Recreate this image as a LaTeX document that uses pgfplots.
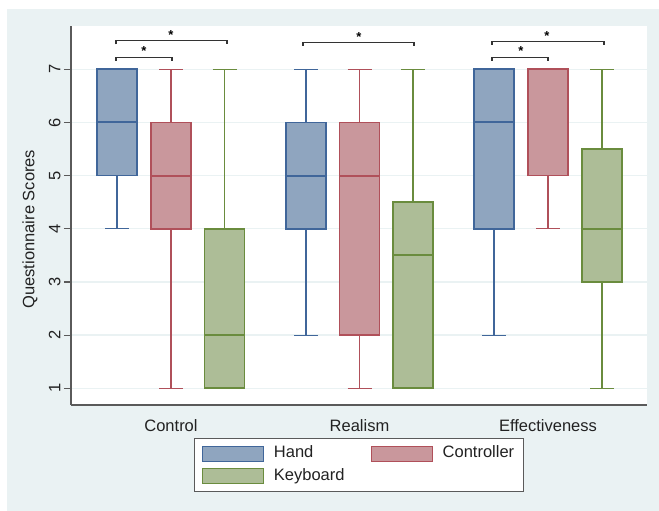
\documentclass[border=0pt]{standalone}
\usepackage{fontspec}
\setmainfont{Liberation Sans}
\usepackage{pgfplots}
\pgfplotsset{compat=1.18}
\usepgfplotslibrary{statistics}
\definecolor{bgc}{HTML}{EAF2F3}
\definecolor{gridc}{HTML}{EAF2F3}
\definecolor{handfill}{HTML}{8FA5BF}
\definecolor{handedge}{HTML}{40669A}
\definecolor{ctrlfill}{HTML}{C9979C}
\definecolor{ctrledge}{HTML}{B0505A}
\definecolor{kbfill}{HTML}{ADBD97}
\definecolor{kbedge}{HTML}{6A8C3E}
\definecolor{axc}{HTML}{5A5A5A}
\definecolor{txt}{HTML}{222222}
\pgfplotsset{
  hand/.style={draw=handedge, fill=handfill},
  ctrl/.style={draw=ctrledge, fill=ctrlfill},
  kb/.style={draw=kbedge, fill=kbfill},
}
\begin{document}
\begin{tikzpicture}[x=1pt,y=1pt]
\fill[white] (0,0) rectangle (659,511);
\fill[bgc] (7,0) rectangle (659,502);
\fill[white] (71,106) rectangle (647,485);
\begin{axis}[
  at={(71pt,106pt)}, anchor=south west,
  scale only axis, width=576pt, height=379pt,
  xmin=71, xmax=647, ymin=0.686, ymax=7.814,
  font=\fontsize{16.5}{19.8}\selectfont,
  every tick label/.append style={text=txt},
  /pgf/number format/assume math mode=true,
  axis x line*=bottom, axis y line*=left,
  axis line style={axc, line width=1.3pt, -},
  xtick={171,359.5,548},
  xticklabels={Control,Realism,Effectiveness},
  xtick style={draw=none},
  x tick label style={yshift=-4pt},
  ytick={1,2,3,4,5,6,7},
  ytick style={axc, line width=1.2pt},
  tick align=outside,
  major tick length=7pt,
  yticklabel style={rotate=90, anchor=south},
  ymajorgrids, grid style={gridc, line width=1.3pt},
  ylabel={Questionnaire Scores},
  ylabel style={at={(axis description cs:-0.0712,0.464)}, anchor=center, rotate=0, text=txt},
  boxplot/draw direction=y,
  boxplot/box extend=40,
  boxplot/whisker extend=24,
  boxplot/every box/.style={line width=1.7pt},
  boxplot/every median/.style={line width=2pt},
  boxplot/every whisker/.style={line width=1.1pt, fill=none},
  legend columns=2,
  legend cell align=left,
  legend image code/.code={\draw[#1, line width=1.3pt] (0pt,-7.5pt) rectangle (61pt,7.5pt); \path (69pt,0pt);},
  legend style={at={(0.5,-0.1583)}, anchor=center, draw=axc, line width=1pt, fill=white,
    font=\fontsize{16.5}{19.8}\selectfont, text=txt,
    nodes={inner sep=2pt, text height=11.8pt, text depth=3.5pt},
    row sep=3pt, inner xsep=7pt, inner ysep=6pt,
    /tikz/every even column/.append style={column sep=24pt}},
  clip=false,
]
% Control
\addplot[hand, boxplot prepared={draw position=117, lower whisker=4, lower quartile=5, median=6, upper quartile=7, upper whisker=7}, forget plot] coordinates {};
\addplot[ctrl, boxplot prepared={draw position=171, lower whisker=1, lower quartile=4, median=5, upper quartile=6, upper whisker=7}, forget plot] coordinates {};
\addplot[kb, boxplot prepared={draw position=224.5, lower whisker=1, lower quartile=1, median=2, upper quartile=4, upper whisker=7}, forget plot] coordinates {};
% Realism
\addplot[hand, boxplot prepared={draw position=306, lower whisker=2, lower quartile=4, median=5, upper quartile=6, upper whisker=7}, forget plot] coordinates {};
\addplot[ctrl, boxplot prepared={draw position=359.5, lower whisker=1, lower quartile=2, median=5, upper quartile=6, upper whisker=7}, forget plot] coordinates {};
\addplot[kb, boxplot prepared={draw position=413, lower whisker=1, lower quartile=1, median=3.5, upper quartile=4.5, upper whisker=7}, forget plot] coordinates {};
% Effectiveness
\addplot[hand, boxplot prepared={draw position=494, lower whisker=2, lower quartile=4, median=6, upper quartile=7, upper whisker=7}, forget plot] coordinates {};
\addplot[ctrl, boxplot prepared={draw position=548, lower whisker=4, lower quartile=5, median=7, upper quartile=7, upper whisker=7}, forget plot] coordinates {};
\addplot[kb, boxplot prepared={draw position=602, lower whisker=1, lower quartile=3, median=4, upper quartile=5.5, upper whisker=7}, forget plot] coordinates {};
% significance brackets
\addplot[black!80, line width=1.2pt, forget plot] coordinates {(116,7.16) (116,7.226) (172,7.226) (172,7.16)};
\addplot[black!80, line width=1.2pt, forget plot] coordinates {(116,7.47) (116,7.538) (227,7.538) (227,7.47)};
\addplot[black!80, line width=1.2pt, forget plot] coordinates {(303,7.44) (303,7.508) (414,7.508) (414,7.44)};
\addplot[black!80, line width=1.2pt, forget plot] coordinates {(492,7.16) (492,7.226) (548,7.226) (548,7.16)};
\addplot[black!80, line width=1.2pt, forget plot] coordinates {(492,7.46) (492,7.526) (604,7.526) (604,7.46)};
\node[anchor=base, font=\bfseries\fontsize{13}{14}\selectfont, inner sep=0pt] at (axis cs:144,7.25) {*};
\node[anchor=base, font=\bfseries\fontsize{13}{14}\selectfont, inner sep=0pt] at (axis cs:171,7.56) {*};
\node[anchor=base, font=\bfseries\fontsize{13}{14}\selectfont, inner sep=0pt] at (axis cs:359,7.53) {*};
\node[anchor=base, font=\bfseries\fontsize{13}{14}\selectfont, inner sep=0pt] at (axis cs:521,7.25) {*};
\node[anchor=base, font=\bfseries\fontsize{13}{14}\selectfont, inner sep=0pt] at (axis cs:547,7.55) {*};
% legend
\addlegendimage{hand}
\addlegendentry{Hand}
\addlegendimage{ctrl}
\addlegendentry{Controller}
\addlegendimage{kb}
\addlegendentry{Keyboard}
\end{axis}
\end{tikzpicture}
\end{document}
